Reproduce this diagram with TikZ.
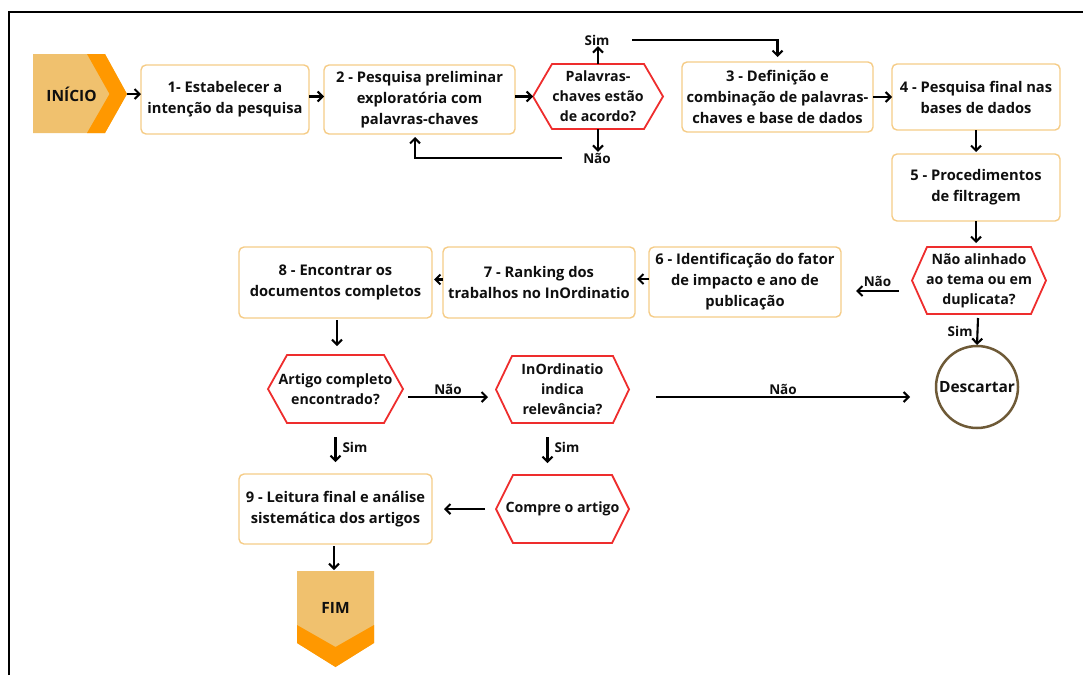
\documentclass[tikz,border=0pt]{standalone}
\usepackage{fontspec}
\setmainfont{Open Sans}
\usetikzlibrary{arrows.meta,calc}
\definecolor{boxc}{RGB}{245,204,135}
\definecolor{hexc}{RGB}{238,45,45}
\definecolor{circc}{RGB}{110,90,55}
\definecolor{lightor}{RGB}{240,193,110}
\definecolor{darkor}{RGB}{255,152,0}
\definecolor{txt}{RGB}{15,15,15}
\newcommand\hexa[2]{\draw[draw=hexc, line width=1.8pt, line join=miter] (#1.west) -- ([xshift=#2pt]#1.north west) -- ([xshift=-#2pt]#1.north east) -- (#1.east) -- ([xshift=-#2pt]#1.south east) -- ([xshift=#2pt]#1.south west) -- cycle;}
\begin{document}
\begin{tikzpicture}[x=1pt,y=-1pt,
  every node/.style={text=txt, outer sep=0pt},
  bx/.style={draw=boxc, line width=1.4pt, rounded corners=5pt, align=center, font=\fontsize{14.7}{21}\selectfont\bfseries, inner sep=0pt},
  hx/.style={align=center, font=\fontsize{14.2}{20}\selectfont\bfseries, inner sep=0pt},
  lab/.style={font=\fontsize{13.5}{16}\selectfont\bfseries, inner sep=1pt},
  big/.style={font=\fontsize{15.5}{18}\selectfont\bfseries, inner sep=0pt},
  arr/.style={draw=black, line width=2.1pt, -{Straight Barb[length=5pt,width=10pt]}},
]
\useasboundingbox (0,0) rectangle (1086,675);
% frame
\draw[line width=2pt] (8.5,675) -- (8.5,11.5) -- (1083,11.5);

% start shape
\fill[lightor] (33,54) -- (105,54) -- (127,94) -- (105,133) -- (33,133) -- cycle;
\fill[darkor] (87,54) -- (105,54) -- (127,94) -- (105,133) -- (87,133) -- (109.5,94) -- cycle;
\node[big] (ini) at (71.5,94) {INÍCIO};
\coordinate (initip) at (127,94);

% end shape
\fill[lightor] (297,571) -- (374,571) -- (374,643) -- (335.5,667) -- (297,643) -- cycle;
\fill[darkor] (297,625) -- (335.5,647) -- (374,625) -- (374,643) -- (335.5,667) -- (297,643) -- cycle;
\node[big] (fim) at (335.5,608) {FIM};
\coordinate (fimtop) at (335.5,571);

% boxes
\node[bx, minimum width=168pt, minimum height=69pt] (b1) at (225,99.5) {1- Estabelecer a\\intenção da pesquisa};
\node[bx, minimum width=191pt, minimum height=69pt] (b2) at (419.5,99.5) {2 - Pesquisa preliminar\\exploratória com\\palavras-chaves};
\node[bx, minimum width=191pt, minimum height=70pt] (b3) at (777.5,97) {3 - Definição e\\combinação de palavras-\\chaves e base de dados};
\node[bx, minimum width=168pt, minimum height=66pt] (b4) at (976,97) {4 - Pesquisa final nas\\bases de dados};
\node[bx, minimum width=168pt, minimum height=67pt] (b5) at (976,187.5) {5 - Procedimentos\\de filtragem};
\node[bx, minimum width=192pt, minimum height=70pt] (b6) at (745,282) {6 - Identificação do fator\\de impacto e ano de\\publicação};
\node[bx, minimum width=192pt, minimum height=71pt] (b7) at (539,282.5) {7 - Ranking dos\\trabalhos no InOrdinatio};
\node[bx, minimum width=193pt, minimum height=71pt] (b8) at (335.5,282.5) {8 - Encontrar os\\documentos completos};
\node[bx, minimum width=193pt, minimum height=70pt] (b9) at (335.5,509) {9 - Leitura final e análise\\sistemática dos artigos};

% decisions
\node[hx, minimum width=130pt, minimum height=65pt] (h1) at (598,96.5) {Palavras-\\chaves estão\\de acordo?};
\hexa{h1}{19}
\node[hx, minimum width=134pt, minimum height=67pt] (h2) at (979,280.5) {Não alinhado\\ao tema ou em\\duplicata?};
\hexa{h2}{15}
\node[hx, minimum width=135pt, minimum height=68pt] (h3) at (335.5,389) {Artigo completo\\encontrado?};
\hexa{h3}{19}
\node[hx, minimum width=133pt, minimum height=67pt] (h4) at (562.5,389.5) {InOrdinatio\\indica\\relevância?};
\hexa{h4}{16}
\node[hx, minimum width=133pt, minimum height=68pt] (h5) at (562.5,509) {Compre o artigo};
\hexa{h5}{17}

\node[draw=circc, circle, line width=2.5pt, minimum size=82pt, inner sep=0pt, font=\fontsize{15.5}{18}\selectfont\bfseries] (desc) at (977,387) {Descartar};

% connectors
\draw[arr] (initip) -- (initip -| b1.west);
\draw[arr] ($(b1.east)+(0,-3)$) -- ($(b2.west)+(0,-3)$);
\draw[arr] (b2.east |- h1.west) -- (h1.west);
\node[lab] (sim1) at (597,40) {Sim};
\draw[arr] (h1.north) -- (h1.north |- sim1.south);
\draw[arr] ($(sim1.east)+(22,0)$) -| ($(b3.north)+(0,-5)$);
\node[lab] (nao1) at (597,158) {Não};
\draw[arr] (h1.south) -- (h1.south |- nao1.north);
\draw[arr] ($(nao1.west)+(-20,0)$) -| ($(b2.south)+(-4.5,3)$);
\draw[arr] (b3.east) -- (b4.west);
\draw[arr] (b4.south) -- ($(b5.north)+(0,-2)$);
\draw[arr] (b5.south) -- ($(b5.south |- h2.north)+(0,-4)$);
\coordinate (n2s) at ($(h2.west)+(-13,10.5)$);
\draw[arr] (n2s) -- ($(n2s -| b6.east)+(15,0)$) node[midway, above=3pt, lab] (nao2) {Não};
\draw[arr] ($(h2.south)+(-1,4)$) -- ($(desc.north)+(0,-1)$) node[midway, left=4pt, lab] (sim2) {Sim};
\draw[arr] ($(b6.west)+(0,-3)$) -- ($(b6.west -| b7.east)+(2,-3)$);
\draw[arr] ($(b7.west)+(0,-3)$) -- ($(b7.west -| b8.east)+(2,-3)$);
\draw[arr] ($(b8.south)+(1.5,2)$) -- ($(h3.north)+(1.5,-9)$);
\draw[arr] ($(h3.east)+(5,8)$) -- ($(h3.east -| h4.west)+(-8,8)$) node[midway, above=1pt, lab] (nao3) {Não};
\draw[arr] ($(h4.east)+(27,7.5)$) -- ($(h4.east -| desc.west)+(-26,7.5)$) node[midway, above=1pt, lab] (nao4) {Não};
\draw[arr] ($(h3.south)+(0,14)$) -- ($(b9.north)+(0,-12)$) node[pos=0.4, right=6pt, lab] (sim3) {Sim};
\draw[arr] ($(h4.south)+(-15,14)$) -- ($(h5.north)+(-15,-12)$) node[pos=0.4, right=6pt, lab] (sim4) {Sim};
\draw[arr] ($(h5.west)+(-11,0)$) -- ($(b9.east)+(12,0)$);
\draw[arr] ($(b9.south)+(-1.5,2)$) -- ($(fimtop)+(-1.5,-1)$);
\end{tikzpicture}
\end{document}
